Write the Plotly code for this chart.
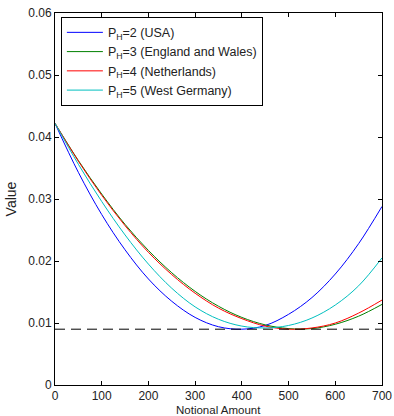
import plotly.graph_objects as go

notional = [0, 50, 100, 150, 200, 250, 300, 350, 400, 450, 500, 550, 600, 650, 700]
usa = [0.0422, 0.0343, 0.0275, 0.0218, 0.0171, 0.0135, 0.0109, 0.0094, 0.0090, 0.0096, 0.0114, 0.0141, 0.0179, 0.0228, 0.0288]
england_wales = [0.0422, 0.0362, 0.0308, 0.0259, 0.0217, 0.0181, 0.0151, 0.0127, 0.0109, 0.0097, 0.0091, 0.0091, 0.0098, 0.0111, 0.0130]
netherlands = [0.0422, 0.0361, 0.0306, 0.0257, 0.0214, 0.0178, 0.0148, 0.0124, 0.0107, 0.0095, 0.0090, 0.0092, 0.0100, 0.0116, 0.0137]
west_germany = [0.0422, 0.0356, 0.0296, 0.0242, 0.0195, 0.0156, 0.0126, 0.0106, 0.0095, 0.0092, 0.0096, 0.0108, 0.0129, 0.0160, 0.0205]
reference_x = [0, 700]
reference_y = [0.009, 0.009]

names = ["P<sub>H</sub>=2 (USA)", "P<sub>H</sub>=3 (England and Wales)",
         "P<sub>H</sub>=4 (Netherlands)", "P<sub>H</sub>=5 (West Germany)"]
series = [usa, england_wales, netherlands, west_germany]
colors = ["#0000FF", "#008000", "#FF0000", "#00BFBF"]

fig = go.Figure()
for nm, ys, c in zip(names, series, colors):
    fig.add_trace(go.Scatter(x=notional, y=ys, mode="lines", name=nm,
                             line=dict(color=c, width=1, shape="spline")))
fig.add_trace(go.Scatter(x=reference_x, y=reference_y, mode="lines", showlegend=False,
                         line=dict(color="black", width=1, dash="10px,6px")))

font = "Liberation Sans, Arial, Helvetica, sans-serif"
fig.update_layout(
    width=394, height=416,
    margin=dict(l=55, r=12, t=13, b=31),
    paper_bgcolor="white", plot_bgcolor="white",
    font=dict(family=font, size=12, color="#222"),
    legend=dict(x=0.018, y=0.99, xanchor="left", yanchor="top",
                bgcolor="white", bordercolor="black", borderwidth=1,
                itemwidth=36,
                font=dict(size=12.5, color="#222"), tracegroupgap=0),
    xaxis=dict(range=[0, 700], tickvals=[0, 100, 200, 300, 400, 500, 600, 700],
               ticks="inside", ticklen=4, tickcolor="black", showline=True,
               linecolor="black", linewidth=1, mirror="ticks", showgrid=False,
               zeroline=False, ticklabelstandoff=0, automargin=False),
    yaxis=dict(range=[0, 0.06], tickvals=[0, 0.01, 0.02, 0.03, 0.04, 0.05, 0.06],
               ticktext=["0", "0.01", "0.02", "0.03", "0.04", "0.05", "0.06"],
               ticks="inside", ticklen=4, tickcolor="black", showline=True,
               linecolor="black", linewidth=1, mirror="ticks", showgrid=False,
               zeroline=False, title=dict(text="Value", standoff=8),
               automargin=False),
    annotations=[dict(text="Notional Amount", xref="paper", yref="paper",
                      x=0.5, y=-0.0659, xanchor="center", yanchor="middle",
                      showarrow=False, font=dict(size=11.5, color="#222"))],
)
fig.write_html("out.html")
